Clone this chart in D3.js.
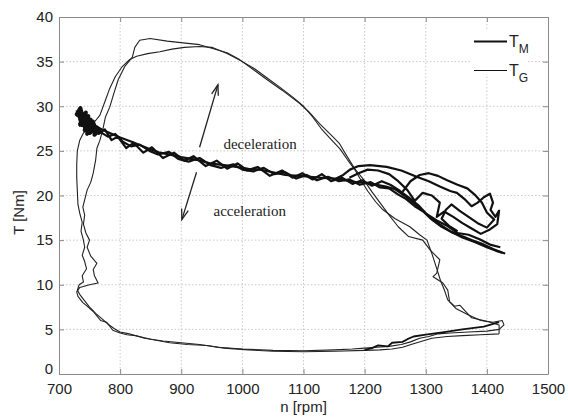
<!DOCTYPE html>
<html><head><meta charset="utf-8">
<script src="https://cdn.jsdelivr.net/npm/d3@7"></script>
<style>body{margin:0;background:#fff;}svg{display:block;}</style>
</head><body><svg id="c" width="568" height="420"></svg>
<script>
// ---- data ----
const xTicks = [700,800,900,1000,1100,1200,1300,1400,1500];
const yTicks = [0,5,10,15,20,25,30,35,40];
const xLabel = "n [rpm]";
const yLabel = "T [Nm]";
const seriesNames = ["M","G"];

// T_M (thick) : several deceleration/acceleration passes
const tmPass1 = [[1430,13.5],[1415,13.8],[1400,14.2],[1380,14.8],[1360,15.3],[1340,16.0],[1320,16.9],[1305,17.7],[1290,18.6],[1278,19.3],[1265,20.0],[1250,20.7],[1235,21.0],[1220,21.2],[1204,21.4],[1185,21.5],[1170,21.7],[1150,21.9],[1127,22.0],[1110,22.1],[1094,22.2],[1070,22.3],[1050,22.6],[1029,22.9],[1010,23.0],[990,23.2],[970,23.4],[947,23.6],[925,24.0],[900,24.3],[880,24.6],[865,24.8],[845,25.3],[820,26.0],[800,26.5],[783,27.0],[770,27.4],[760,27.8],[750,28.2],[740,28.6],[732,29.0]];
const tmPass2 = [[733,28.2],[742,27.6],[755,27.9],[768,27.1],[780,26.6],[792,26.9],[805,26.0],[818,25.5],[832,25.7],[848,25.0],[862,24.6],[880,24.9],[895,24.1],[912,23.8],[930,24.2],[948,23.4],[965,23.1],[985,23.5],[1000,22.9],[1018,22.7],[1035,23.1],[1052,22.4],[1070,22.6],[1088,21.9],[1105,22.3],[1122,21.7],[1140,22.1],[1158,21.6],[1175,21.8],[1192,21.2],[1210,21.5],[1225,20.9],[1240,20.8],[1255,20.1],[1268,19.6],[1282,18.8],[1296,18.2],[1310,17.3],[1326,16.5],[1342,15.9],[1358,15.5],[1375,15.0],[1392,14.6],[1410,14.0],[1425,13.6]];
const tmPass3 = [[1422,14.2],[1405,14.5],[1388,15.1],[1370,15.6],[1352,15.8],[1335,16.6],[1318,17.2],[1300,18.0],[1288,18.9],[1272,19.8],[1258,20.5],[1242,21.2],[1228,21.6],[1212,21.1],[1196,21.7],[1180,21.3],[1163,22.0],[1145,21.6],[1130,22.4],[1115,21.8],[1098,22.5],[1082,22.0],[1065,22.8],[1045,22.2],[1025,23.2],[1008,22.8],[992,23.6],[975,23.0],[958,23.9],[940,23.3],[920,24.4],[905,23.9],[888,24.8],[870,24.2],[852,25.4],[838,24.8],[822,25.9],[810,25.3],[796,26.6],[786,26.2],[775,27.4],[765,26.9],[756,28.4],[748,27.6],[740,29.2],[735,28.0],[731,29.4],[738,29.0],[733,27.8]];
const tmBlob = [[730,29.6],[736,28.4],[744,29.3],[737,27.9],[748,28.9],[742,27.3],[752,28.5],[746,26.9],[757,27.9],[750,27.0],[762,27.6],[758,26.8],[766,27.3],[733,28.9],[729,29.1],[735,29.8],[741,28.1],[732,27.9]];
const tmRight = [[1150,21.8],[1165,22.3],[1176,22.9],[1190,23.3],[1209,23.4],[1236,23.2],[1260,22.8],[1285,22.1],[1305,21.6],[1323,21.0],[1340,20.5],[1351,20.3],[1365,19.5],[1375,18.8],[1385,19.2],[1395,19.8],[1405,20.2],[1410,19.2],[1406,18.4],[1414,17.6],[1420,18.3],[1417,16.8],[1405,16.2],[1390,15.7],[1375,16.3],[1360,16.9],[1345,17.6],[1330,18.2],[1318,17.6],[1323,19.2],[1310,20.0],[1295,20.3],[1282,19.4],[1270,20.6],[1255,21.6],[1240,22.4],[1222,22.8],[1205,22.9],[1190,22.5],[1175,22.0]];
const tmRight2 = [[1262,20.4],[1275,21.6],[1290,22.3],[1305,22.5],[1320,22.2],[1335,21.7],[1352,21.2],[1368,20.8],[1380,20.1],[1392,19.2],[1400,18.1],[1412,17.3],[1400,16.4],[1385,16.9],[1370,17.6],[1355,18.3],[1342,19.0],[1333,18.4],[1326,17.4],[1338,16.6],[1352,16.0]];
const tmBottom = [[1200,2.7],[1212,2.9],[1222,3.2],[1238,3.1],[1245,3.5],[1262,3.6],[1270,3.9],[1280,4.2],[1300,4.4],[1330,4.7],[1360,5.0],[1395,5.3],[1420,5.8]];

// T_G (thin) : the large loop, traced twice
const tgPass1 = [[1420,5.0],[1400,4.8],[1370,4.7],[1340,4.6],[1320,4.5],[1305,4.2],[1290,4.0],[1275,3.6],[1260,3.3],[1240,3.1],[1220,3.0],[1200,2.9],[1180,2.8],[1150,2.7],[1100,2.6],[1050,2.65],[1000,2.8],[960,3.0],[930,3.3],[900,3.5],[870,3.7],[840,4.0],[815,4.5],[800,4.7],[790,5.1],[780,5.6],[770,6.2],[760,6.8],[750,7.5],[742,8.2],[735,8.8],[730,9.4],[733,10.0],[740,10.3],[738,11.0],[745,11.8],[742,12.6],[738,13.3],[742,14.2],[740,15.0],[736,16.0],[738,17.0],[734,18.0],[731,19.0],[730,20.5],[729,22.0],[729,23.5],[730,25.0],[734,26.2],[740,27.0],[750,27.8],[760,28.4],[767,29.0],[775,30.5],[783,32.0],[792,33.3],[803,34.4],[815,35.2],[827,35.6],[845,35.9],[865,36.1],[885,36.4],[905,36.6],[930,36.7],[950,36.6],[975,35.9],[1000,35.0],[1020,34.2],[1040,33.2],[1060,32.2],[1083,31.0],[1100,30.0],[1115,28.8],[1130,27.4],[1145,26.3],[1160,25.2],[1172,24.0],[1184,22.9],[1195,21.6],[1205,20.5],[1218,19.3],[1230,18.4],[1250,17.4],[1274,16.5],[1290,15.6],[1302,15.0],[1310,13.5],[1318,11.8],[1324,10.5],[1330,9.5],[1336,8.3],[1350,7.3],[1370,6.6],[1390,6.0],[1410,5.8],[1425,6.0],[1428,5.5],[1420,5.0]];
const tgPass2 = [[1420,4.5],[1390,4.4],[1360,4.3],[1335,4.2],[1310,4.0],[1295,3.7],[1280,3.4],[1262,3.0],[1245,2.8],[1225,2.7],[1200,2.65],[1150,2.55],[1100,2.5],[1050,2.55],[1010,2.7],[970,2.9],[942,3.2],[910,3.3],[881,3.5],[850,3.9],[825,4.3],[811,4.4],[800,4.6],[788,4.9],[778,5.8],[768,6.0],[756,7.0],[746,7.6],[739,8.0],[731,8.7],[729,9.2],[734,9.7],[750,10.0],[764,10.2],[758,11.0],[756,11.7],[762,12.4],[752,13.2],[746,14.2],[750,15.0],[744,15.8],[740,16.8],[742,17.8],[739,18.7],[746,20.6],[752,21.5],[756,22.5],[760,24.0],[762,25.3],[767,26.2],[772,27.5],[776,28.8],[783,29.9],[790,31.5],[797,33.0],[808,34.5],[820,35.5],[824,36.6],[832,37.4],[849,37.6],[877,37.3],[903,37.1],[930,36.9],[950,36.5],[975,36.0],[996,35.2],[1020,34.0],[1040,33.0],[1065,31.8],[1094,30.3],[1110,29.3],[1127,28.0],[1145,26.8],[1159,25.8],[1172,24.3],[1184,23.0],[1198,21.8],[1212,20.4],[1225,19.2],[1240,17.8],[1255,16.5],[1272,15.4],[1295,15.0],[1307,13.9],[1323,12.8],[1318,11.3],[1312,10.9],[1328,10.2],[1336,9.4],[1339,8.1],[1347,7.6],[1356,7.7],[1375,6.3],[1400,5.9],[1420,5.5],[1420,4.5]];

// annotations (data coordinates)
const arrowUp = [[930,25.4],[960,32.4]];
const arrowDown = [[925,22.6],[901,17.3]];
const annDecel = {text:"deceleration", n:1029, T:25.8};
const annAccel = {text:"acceleration", n:1012, T:18.3};

// ---- drawing ----
const svg = d3.select("#c");
const L=59, R=548, Tp=17, B=374;
const x = d3.scaleLinear().domain([700,1500]).range([L,R]);
const y = d3.scaleLinear().domain([0,40]).range([B,Tp]);
const frame = "#8a8a8a";
const fmt = d3.format("d");

// grid
const g = svg.append("g");
g.selectAll(".gx").data(xTicks.slice(1,-1)).join("line")
  .attr("x1",d=>x(d)).attr("x2",d=>x(d)).attr("y1",Tp).attr("y2",B)
  .attr("stroke","#c9c9c9").attr("stroke-dasharray","1.5,2");
g.selectAll(".gy").data(yTicks.slice(1,-1)).join("line")
  .attr("y1",d=>y(d)).attr("y2",d=>y(d)).attr("x1",L).attr("x2",R)
  .attr("stroke","#c9c9c9").attr("stroke-dasharray","1.5,2");

// axes (inward ticks, all four sides)
const ax = (gen, tr) => svg.append("g").attr("transform",tr).call(gen)
  .call(s=>{s.select(".domain").attr("stroke",frame);s.selectAll(".tick line").attr("stroke",frame);
            s.selectAll("text").attr("fill","#222").style("font-family","'Liberation Sans',Arial,sans-serif").style("font-size","15px");});
ax(d3.axisBottom(x).tickValues(xTicks).tickFormat(fmt).tickSize(-5).tickPadding(9).tickSizeOuter(0), `translate(0,${B})`);
ax(d3.axisTop(x).tickValues(xTicks).tickSize(-5).tickSizeOuter(0).tickFormat(""), `translate(0,${Tp})`);
const yAx = ax(d3.axisLeft(y).tickValues(yTicks).tickFormat(fmt).tickSize(-5).tickPadding(6).tickSizeOuter(0), `translate(${L},0)`);
yAx.selectAll(".tick").filter(d=>d===0).select("text").attr("dy","-0.05em");
ax(d3.axisRight(y).tickValues(yTicks).tickSize(-5).tickSizeOuter(0).tickFormat(""), `translate(${R},0)`);

// curves
const line = d3.line().x(d=>x(d[0])).y(d=>y(d[1])).curve(d3.curveLinear);
const plot = svg.append("g");
[tgPass1, tgPass2].forEach(p=>plot.append("path").attr("d",line(p)).attr("fill","none").attr("stroke","#222").attr("stroke-width",1.1).attr("stroke-linejoin","round"));
[tmBottom].forEach(p=>plot.append("path").attr("d",line(p)).attr("fill","none").attr("stroke","#111").attr("stroke-width",1.8).attr("stroke-linejoin","round"));
[tmPass1, tmPass2, tmPass3, tmRight, tmRight2].forEach(p=>plot.append("path").attr("d",line(p)).attr("fill","none").attr("stroke","#111").attr("stroke-width",2.2).attr("stroke-linejoin","round"));
plot.append("path").attr("d",line(tmBlob)).attr("fill","none").attr("stroke","#111").attr("stroke-width",4).attr("stroke-linejoin","round");

// arrows
function arrow(a){
  const x1=x(a[0][0]),y1=y(a[0][1]),x2=x(a[1][0]),y2=y(a[1][1]);
  const ang=Math.atan2(y2-y1,x2-x1), h=11, w=0.32;
  svg.append("line").attr("x1",x1).attr("y1",y1).attr("x2",x2).attr("y2",y2).attr("stroke","#222").attr("stroke-width",1.3);
  svg.append("path").attr("d",`M${x2-h*Math.cos(ang-w)},${y2-h*Math.sin(ang-w)}L${x2},${y2}L${x2-h*Math.cos(ang+w)},${y2-h*Math.sin(ang+w)}`)
    .attr("fill","none").attr("stroke","#222").attr("stroke-width",1.3);
}
arrow(arrowUp); arrow(arrowDown);
[annDecel, annAccel].forEach(a=>svg.append("text").attr("x",x(a.n)).attr("y",y(a.T)+5).attr("text-anchor","middle")
  .style("font-family","'Liberation Serif','Times New Roman',serif").style("font-size","15px").attr("fill","#222").text(a.text));

// legend
svg.append("rect").attr("x",472).attr("y",29).attr("width",56).attr("height",45).attr("fill","#fff");
const leg = [{name:"M", yy:41.5, w:2.2},{name:"G", yy:70.5, w:1.1}];
leg.forEach(l=>{
  svg.append("line").attr("x1",474).attr("x2",507).attr("y1",l.yy).attr("y2",l.yy).attr("stroke","#111").attr("stroke-width",l.w);
  const t = svg.append("text").attr("x",509).attr("y",l.yy+5).style("font-family","'Liberation Sans',Arial,sans-serif").style("font-size","16px").attr("fill","#222");
  t.append("tspan").text("T");
  t.append("tspan").attr("dy",6).style("font-size","12px").text(l.name);
});

// axis labels
svg.append("text").attr("x",(L+R)/2).attr("y",412).attr("text-anchor","middle")
  .style("font-family","'Liberation Sans',Arial,sans-serif").style("font-size","15px").attr("fill","#222").text(xLabel);
svg.append("text").attr("transform",`translate(24,${(Tp+B)/2+17}) rotate(-90)`).attr("text-anchor","middle")
  .style("font-family","'Liberation Sans',Arial,sans-serif").style("font-size","15px").attr("fill","#222").text(yLabel);
</script></body></html>
